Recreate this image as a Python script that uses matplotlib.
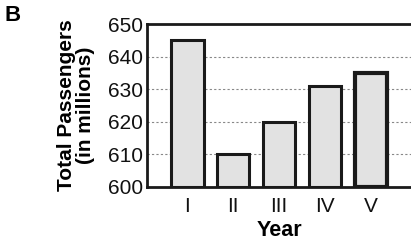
import matplotlib.pyplot as plt

years = ["I", "II", "III", "IV", "V"]
passengers = [645, 610, 620, 631, 635]
y_ticks = [600, 610, 620, 630, 640, 650]

plt.rcParams["font.family"] = ["Liberation Sans", "DejaVu Sans"]

fig = plt.figure(figsize=(4.11, 2.46), dpi=100)
ax = fig.add_axes([0.358, 0.24, 0.645, 0.662])

x = list(range(len(years)))
bars = ax.bar(x, [p - 600 for p in passengers], bottom=600, width=0.7,
              color="#e2e2e2", edgecolor="#1a1a1a", linewidth=2.2, zorder=3)
bars[-1].set_linewidth(3)

ax.set_ylim(600, 650)
ax.set_xlim(-0.88, 4.9)
ax.set_yticks(y_ticks)
ax.set_xticks(x)
ax.set_xticklabels(years)
ax.tick_params(axis="both", length=0, labelsize=15, colors="#111111")
ax.tick_params(axis="x", pad=7)
ax.tick_params(axis="y", pad=3)

for yv in y_ticks[1:-1]:
    ax.axhline(yv, color="#888888", linestyle=(0, (2, 2)), linewidth=0.8, zorder=1)

for side in ["left", "top", "bottom", "right"]:
    ax.spines[side].set_linewidth(2)
    ax.spines[side].set_color("#1a1a1a")

ax.set_ylabel("Total Passengers\n(in millions)", fontsize=15, fontweight="bold",
              linespacing=1.05, labelpad=9)
ax.set_xlabel("Year", fontsize=15.5, fontweight="bold", labelpad=3)

fig.text(0.012, 0.915, "B", fontsize=16, fontweight="bold")

fig.savefig("out.png", dpi=100)
